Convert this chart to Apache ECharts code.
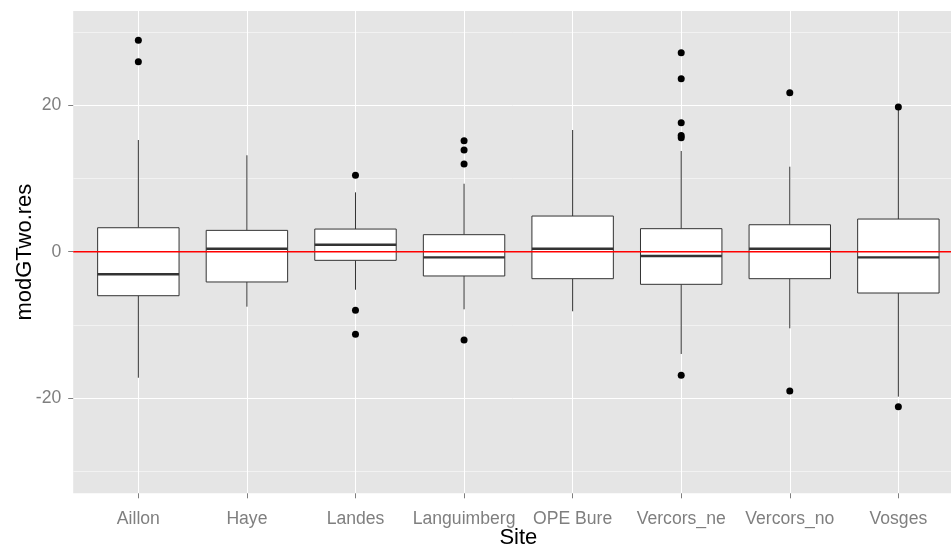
<!DOCTYPE html>
<html>
<head>
<meta charset="utf-8">
<script src="https://cdn.jsdelivr.net/npm/echarts@6/dist/echarts.min.js"></script>
<style>html,body{margin:0;padding:0;background:#fff;}#chart{width:951px;height:550px;}</style>
</head>
<body>
<div id="chart"></div>
<script>
const categories = ['Aillon', 'Haye', 'Landes', 'Languimberg', 'OPE Bure', 'Vercors_ne', 'Vercors_no', 'Vosges'];
const whiskerLow  = [-17.24, -7.52, -5.2, -7.88, -8.15, -13.99, -10.48, -19.83];
const q1          = [-6.02, -4.14, -1.18, -3.32, -3.69, -4.46, -3.69, -5.65];
const median      = [-3.09, 0.41, 0.96, -0.77, 0.41, -0.59, 0.41, -0.77];
const q3          = [3.28, 2.92, 3.10, 2.33, 4.88, 3.15, 3.69, 4.47];
const whiskerHigh = [15.28, 13.19, 8.12, 9.3, 16.65, 13.78, 11.63, 19.6];
const outlierSite  = [0, 0, 2, 2, 2, 3, 3, 3, 3, 5, 5, 5, 5, 5, 5, 6, 6, 7, 7];
const outlierValue = [28.92, 26.0, 10.45, -8.02, -11.3, 15.19, 13.91, 12.0, -12.08, 27.22, 23.67, 17.65, 15.9, 15.6, -16.91, 21.75, -19.06, 19.8, -21.2];
const yMajorTicks = [-20, 0, 20];
const yMinorTicks = [-30, -10, 10, 30];
const yMin = -33.05, yMax = 32.93;
const xMin = -0.6, xMax = categories.length - 1 + 0.6;
const refLine = [0];

const sitePositions = categories.map((_, i) => i);
const boxData = categories.map((_, i) => [i, whiskerLow[i], q1[i], median[i], q3[i], whiskerHigh[i]]);
const outlierData = outlierSite.map((s, i) => [s, outlierValue[i]]);

const chart = echarts.init(document.getElementById('chart'));
const font = 'Liberation Sans, Arial, sans-serif';

function renderBox(params, api) {
  const x = api.value(0);
  const lo = api.coord([x, api.value(1)]);
  const b1 = api.coord([x, api.value(2)]);
  const md = api.coord([x, api.value(3)]);
  const b3 = api.coord([x, api.value(4)]);
  const hi = api.coord([x, api.value(5)]);
  const w = api.size([1, 0])[0] * 0.75;
  const cx = lo[0];
  const stroke = '#333333';
  return {
    type: 'group',
    children: [
      { type: 'line', shape: { x1: cx, y1: hi[1], x2: cx, y2: b3[1] }, style: { stroke: stroke, lineWidth: 1 } },
      { type: 'line', shape: { x1: cx, y1: b1[1], x2: cx, y2: lo[1] }, style: { stroke: stroke, lineWidth: 1 } },
      { type: 'rect', shape: { x: cx - w / 2, y: b3[1], width: w, height: b1[1] - b3[1] }, style: { fill: '#ffffff', stroke: stroke, lineWidth: 1 } },
      { type: 'line', shape: { x1: cx - w / 2, y1: md[1], x2: cx + w / 2, y2: md[1] }, style: { stroke: stroke, lineWidth: 2.4 } }
    ]
  };
}

function renderRef(params, api) {
  const v = api.value(0);
  const a = api.coord([xMin, v]);
  const b = api.coord([xMax, v]);
  return { type: 'line', shape: { x1: a[0], y1: a[1], x2: b[0], y2: b[1] }, style: { stroke: '#FF0000', lineWidth: 1.6 } };
}

const option = {
  animation: false,
  backgroundColor: '#ffffff',
  grid: {
    left: 73.2, top: 11, width: 890.3, height: 482.3,
    outerBoundsMode: 'none', containLabel: false,
    show: true, backgroundColor: '#E5E5E5', borderWidth: 0
  },
  xAxis: {
    type: 'value', min: xMin, max: xMax,
    name: 'Site', nameLocation: 'middle', nameGap: 34, nameMoveOverlap: false,
    nameTextStyle: { color: '#000', fontSize: 22, fontFamily: font },
    axisLine: { show: false, onZero: false },
    axisTick: { show: true, length: 5, customValues: sitePositions, lineStyle: { color: '#7F7F7F', width: 1 } },
    axisLabel: {
      customValues: sitePositions, margin: 17, color: '#7F7F7F', fontSize: 17.6, fontFamily: font,
      formatter: (v) => categories[Math.round(v)]
    },
    splitLine: { show: true, lineStyle: { color: '#ffffff', width: 1 } }
  },
  yAxis: [{
    type: 'value', min: yMin, max: yMax,
    name: 'modGTwo.res', nameLocation: 'middle', nameGap: 37, nameMoveOverlap: false,
    nameTextStyle: { color: '#000', fontSize: 22, fontFamily: font },
    axisLine: { show: false, onZero: false },
    axisTick: { show: true, length: 5, customValues: yMajorTicks, lineStyle: { color: '#7F7F7F', width: 1 } },
    axisLabel: { customValues: yMajorTicks, margin: 12, color: '#7F7F7F', fontSize: 17.6, fontFamily: font },
    splitLine: { show: true, lineStyle: { color: '#ffffff', width: 1 } }
  }, {
    type: 'value', min: yMin, max: yMax, position: 'left',
    axisLine: { show: false, onZero: false },
    axisTick: { show: false, customValues: yMinorTicks },
    axisLabel: { show: false, customValues: yMinorTicks },
    splitLine: { show: true, lineStyle: { color: '#F2F2F2', width: 1 } }
  }],
  series: [{
    type: 'custom',
    renderItem: renderBox,
    data: boxData,
    encode: { x: 0, y: [1, 2, 3, 4, 5] },
    z: 2,
    silent: true
  }, {
    type: 'scatter',
    data: outlierData,
    symbol: 'circle',
    symbolSize: 7,
    itemStyle: { color: '#000000', opacity: 1 },
    z: 3,
    silent: true
  }, {
    type: 'custom',
    renderItem: renderRef,
    data: refLine.map((v) => [v]),
    encode: { y: 0 },
    clip: false,
    z: 10,
    silent: true
  }]
};
chart.setOption(option);
</script>
</body>
</html>
